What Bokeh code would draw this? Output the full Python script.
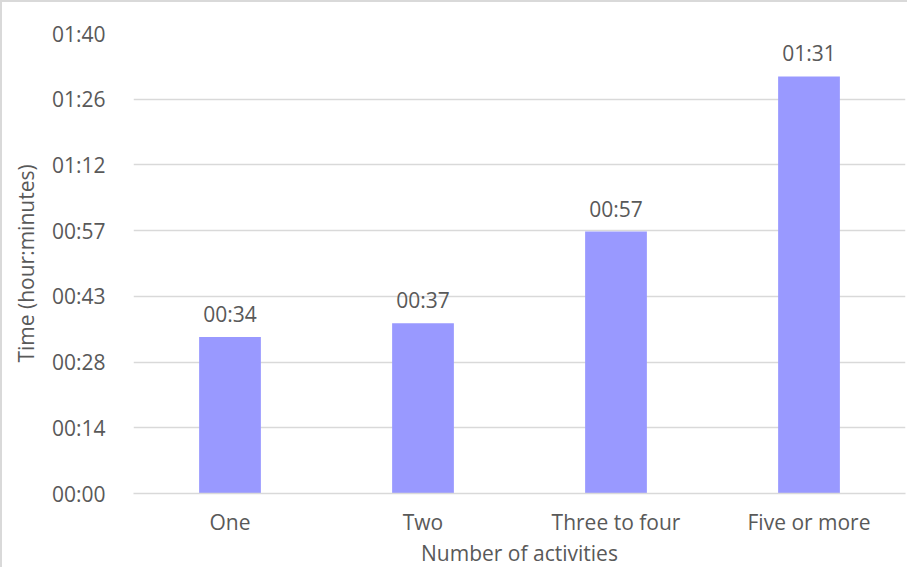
from bokeh.plotting import figure
from bokeh.models import ColumnDataSource, FixedTicker, LabelSet
from bokeh.core.properties import value
from bokeh.embed import file_html
from bokeh.resources import INLINE

categories = ["One", "Two", "Three to four", "Five or more"]
minutes = [34.3, 37.3, 57.4, 91.4]
y_ticks = [0, 14.4, 28.8, 43.2, 57.6, 72.0, 86.4, 100.8]

def fmt(m):
    total = int(m + 1e-6)
    return "%02d:%02d" % (total // 60, total % 60)

FONT = "Open Sans"
SIZE = "21px"
TXT = "#595959"
GRID = "#d9d9d9"

source = ColumnDataSource(dict(cat=categories, val=minutes, lab=[fmt(v) for v in minutes]))

p = figure(x_range=categories, y_range=(0, 100.8), width=907, height=567,
           output_backend="svg", toolbar_location=None,
           min_border_left=131, min_border_right=4, min_border_top=31, min_border_bottom=74)
p.styles = {"border-left": "2px solid #d9d9d9", "border-top": "2px solid #d9d9d9"}
p.outline_line_color = None

p.vbar(x="cat", top="val", width=0.32, source=source, fill_color="#9999FF", line_color=None)

labels = LabelSet(x="cat", y="val", text="lab", source=source, text_align="center",
                  text_baseline="alphabetic", y_offset=15, text_font=value(FONT),
                  text_font_size=value(SIZE), text_color=TXT)
p.add_layout(labels)

p.yaxis.ticker = FixedTicker(ticks=y_ticks)
p.yaxis.major_label_overrides = {t: fmt(t) for t in y_ticks}
p.yaxis.axis_line_color = None
p.yaxis.major_tick_line_color = None
p.yaxis.minor_tick_line_color = None
p.yaxis.major_label_standoff = 22
p.yaxis.axis_label = "Time (hour:minutes)"
p.yaxis.axis_label_standoff = 9

p.xaxis.axis_line_color = GRID
p.xaxis.axis_line_width = 1.5
p.xaxis.major_tick_line_color = None
p.xaxis.major_tick_out = 0
p.xaxis.major_tick_in = 0
p.xaxis.major_label_standoff = 14
p.xaxis.axis_label = "Number of activities"
p.xaxis.axis_label_standoff = 0

for ax in (p.xaxis, p.yaxis):
    ax.major_label_text_font = FONT
    ax.major_label_text_font_size = SIZE
    ax.major_label_text_color = TXT
    ax.axis_label_text_font = FONT
    ax.axis_label_text_font_size = SIZE
    ax.axis_label_text_color = TXT
    ax.axis_label_text_font_style = "normal"

p.xgrid.grid_line_color = None
p.ygrid.grid_line_color = GRID
p.ygrid.grid_line_width = 1.5
p.x_range.range_padding = 0

open("out.html", "w").write(file_html(p, INLINE))
